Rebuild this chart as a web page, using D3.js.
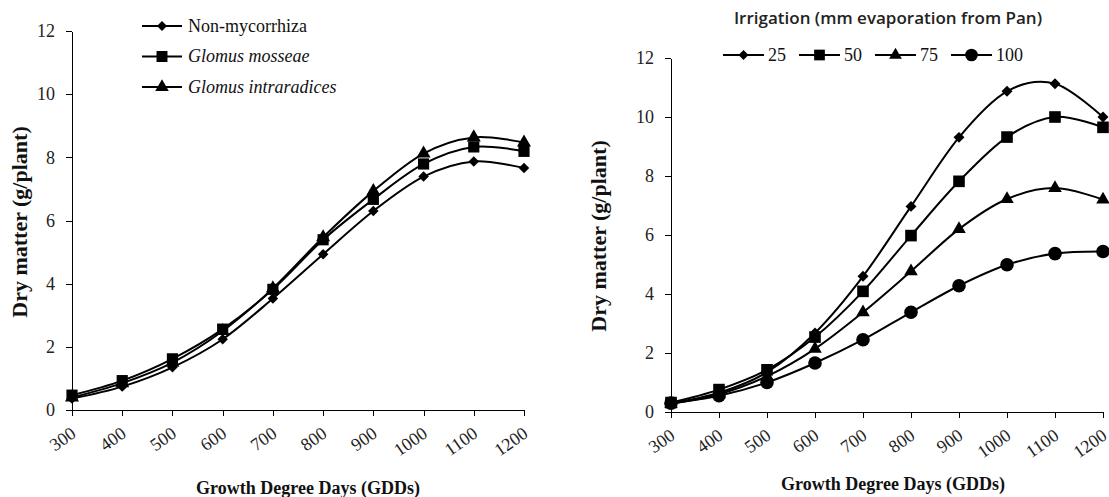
<!DOCTYPE html>
<html>
<head>
<meta charset="utf-8">
<script src="https://cdn.jsdelivr.net/npm/d3@7"></script>
<style>
  body { margin: 0; background: #fff; }
  svg { display: block; }
  .axis path, .axis line { stroke: #000; stroke-width: 1; shape-rendering: crispEdges; }
</style>
</head>
<body>
<div id="chart"></div>
<script>
// growth degree days on the x axis (both panels)
var gdd = [300, 400, 500, 600, 700, 800, 900, 1000, 1100, 1200];
var yTicks = [0, 2, 4, 6, 8, 10, 12];

// left panel: mycorrhiza treatments
var leftNames = ["Non-mycorrhiza", "Glomus mosseae", "Glomus intraradices"];
var nonMyco = [0.36, 0.74, 1.35, 2.24, 3.53, 4.93, 6.30, 7.39, 7.87, 7.66];
var mosseae = [0.47, 0.93, 1.62, 2.56, 3.82, 5.39, 6.67, 7.79, 8.33, 8.19];
var intraradices = [0.40, 0.85, 1.50, 2.50, 3.85, 5.47, 6.93, 8.12, 8.63, 8.47];

// right panel: irrigation levels (mm evaporation from pan)
var rightNames = ["25", "50", "75", "100"];
var irr25 = [0.30, 0.65, 1.35, 2.68, 4.60, 6.97, 9.31, 10.87, 11.13, 10.00];
var irr50 = [0.32, 0.76, 1.43, 2.54, 4.09, 5.98, 7.82, 9.32, 10.00, 9.65];
var irr75 = [0.28, 0.60, 1.21, 2.14, 3.38, 4.77, 6.20, 7.22, 7.59, 7.20];
var irr100 = [0.30, 0.55, 1.00, 1.66, 2.45, 3.38, 4.28, 4.99, 5.37, 5.44];

var serif = '"Liberation Serif", "Times New Roman", serif';

var width = 1109,
    height = 497;

var svg = d3.select('#chart')
    .append('svg')
    .attr('width', width)
    .attr('height', height);

// excel style markers
function marker(g, shape, size) {
    if (shape === 'diamond') {
        g.append('path')
            .attr('d', d3.symbol().type(d3.symbolSquare).size(size)())
            .attr('transform', 'rotate(45)');
        return;
    }
    var sym = {square: d3.symbolSquare, triangle: d3.symbolTriangle, circle: d3.symbolCircle}[shape];
    g.append('path').attr('d', d3.symbol().type(sym).size(size)());
}

function panel(cfg) {
    var x = d3.scaleLinear().domain([300, 1200]).range([cfg.x0, cfg.x1]);
    var y = d3.scaleLinear().domain([0, 12]).range([cfg.y0, cfg.y1]);

    var g = svg.append('g');

    var xAxis = g.append('g')
        .attr('class', 'axis')
        .attr('transform', 'translate(0,' + cfg.y0 + ')')
        .call(d3.axisBottom(x).tickValues(gdd).tickSize(6).tickSizeOuter(0).tickFormat(d3.format('d')));
    xAxis.selectAll('text')
        .attr('x', 0)
        .attr('y', 0)
        .attr('dy', '0.35em')
        .attr('text-anchor', 'end')
        .attr('transform', 'translate(1,21) rotate(-35)');

    var yAxis = g.append('g')
        .attr('class', 'axis')
        .attr('transform', 'translate(' + cfg.x0 + ',0)')
        .call(d3.axisLeft(y).tickValues(yTicks).tickSize(6).tickSizeOuter(0).tickPadding(11));

    g.selectAll('.axis text')
        .style('font-family', serif)
        .style('font-size', '18px')
        .style('fill', '#222');

    var line = d3.line()
        .curve(d3.curveCardinal.tension(0))
        .x(function(d, i) { return x(gdd[i]); })
        .y(function(d) { return y(d); });

    cfg.series.forEach(function(s) {
        g.append('path')
            .attr('d', line(s.values))
            .attr('fill', 'none')
            .attr('stroke', '#000')
            .attr('stroke-width', 2);
    });
    cfg.series.forEach(function(s) {
        s.values.forEach(function(v, i) {
            var m = g.append('g').attr('transform', 'translate(' + x(gdd[i]) + ',' + y(v) + ')');
            marker(m, s.shape, s.size);
        });
    });

    // axis titles
    g.append('text')
        .attr('transform', 'translate(' + cfg.yTitle[0] + ',' + cfg.yTitle[1] + ') rotate(-90)')
        .attr('text-anchor', 'middle')
        .style('font-family', serif)
        .style('font-weight', 'bold')
        .style('font-size', '22px')
        .style('fill', '#111')
        .text('Dry matter (g/plant)');
    g.append('text')
        .attr('x', cfg.xTitle[0])
        .attr('y', cfg.xTitle[1])
        .attr('text-anchor', 'middle')
        .style('font-family', serif)
        .style('font-weight', 'bold')
        .style('font-size', '18px')
        .style('fill', '#111')
        .text('Growth Degree Days (GDDs)');

    return g;
}

var left = panel({
    x0: 72, x1: 524, y0: 410, y1: 31,
    yTitle: [27, 222], xTitle: [308, 494],
    series: [
        {values: nonMyco, shape: 'diamond', size: 55},
        {values: mosseae, shape: 'square', size: 125},
        {values: intraradices, shape: 'triangle', size: 85}
    ]
});

var right = panel({
    x0: 671, x1: 1103, y0: 412, y1: 58,
    yTitle: [606, 236], xTitle: [893, 490],
    series: [
        {values: irr25, shape: 'diamond', size: 60},
        {values: irr50, shape: 'square', size: 135},
        {values: irr75, shape: 'triangle', size: 80},
        {values: irr100, shape: 'circle', size: 145}
    ]
});

// left legend, stacked
var leftShapes = ['diamond', 'square', 'triangle'];
var leftSizes = [50, 120, 80];
leftNames.forEach(function(n, i) {
    var row = left.append('g').attr('transform', 'translate(142,' + (26 + i * 30.5) + ')');
    row.append('line').attr('x1', 0).attr('x2', 40).attr('stroke', '#000').attr('stroke-width', 2);
    marker(row.append('g').attr('transform', 'translate(20,0)'), leftShapes[i], leftSizes[i]);
    row.append('text')
        .attr('x', 46)
        .attr('dy', '0.33em')
        .style('font-family', serif)
        .style('font-size', '18px')
        .style('fill', '#111')
        .style('font-style', i > 0 ? 'italic' : 'normal')
        .text(n);
});

// right legend, one row with title
right.append('text')
    .attr('x', 888)
    .attr('y', 24)
    .attr('text-anchor', 'middle')
    .style('font-family', '"Open Sans", Lato, sans-serif')
    .style('font-weight', '600')
    .style('font-size', '17px')
    .style('fill', '#222')
    .text('Irrigation (mm evaporation from Pan)');

var rightShapes = ['diamond', 'square', 'triangle', 'circle'];
var rightSizes = [50, 115, 70, 125];
rightNames.forEach(function(n, i) {
    var item = right.append('g').attr('transform', 'translate(' + (723 + i * 76) + ',55)');
    item.append('line').attr('x1', 0).attr('x2', 41).attr('stroke', '#000').attr('stroke-width', 2);
    marker(item.append('g').attr('transform', 'translate(20.5,0)'), rightShapes[i], rightSizes[i]);
    item.append('text')
        .attr('x', 45)
        .attr('dy', '0.33em')
        .style('font-family', serif)
        .style('font-size', '18px')
        .style('fill', '#111')
        .text(n);
});
</script>
</body>
</html>
